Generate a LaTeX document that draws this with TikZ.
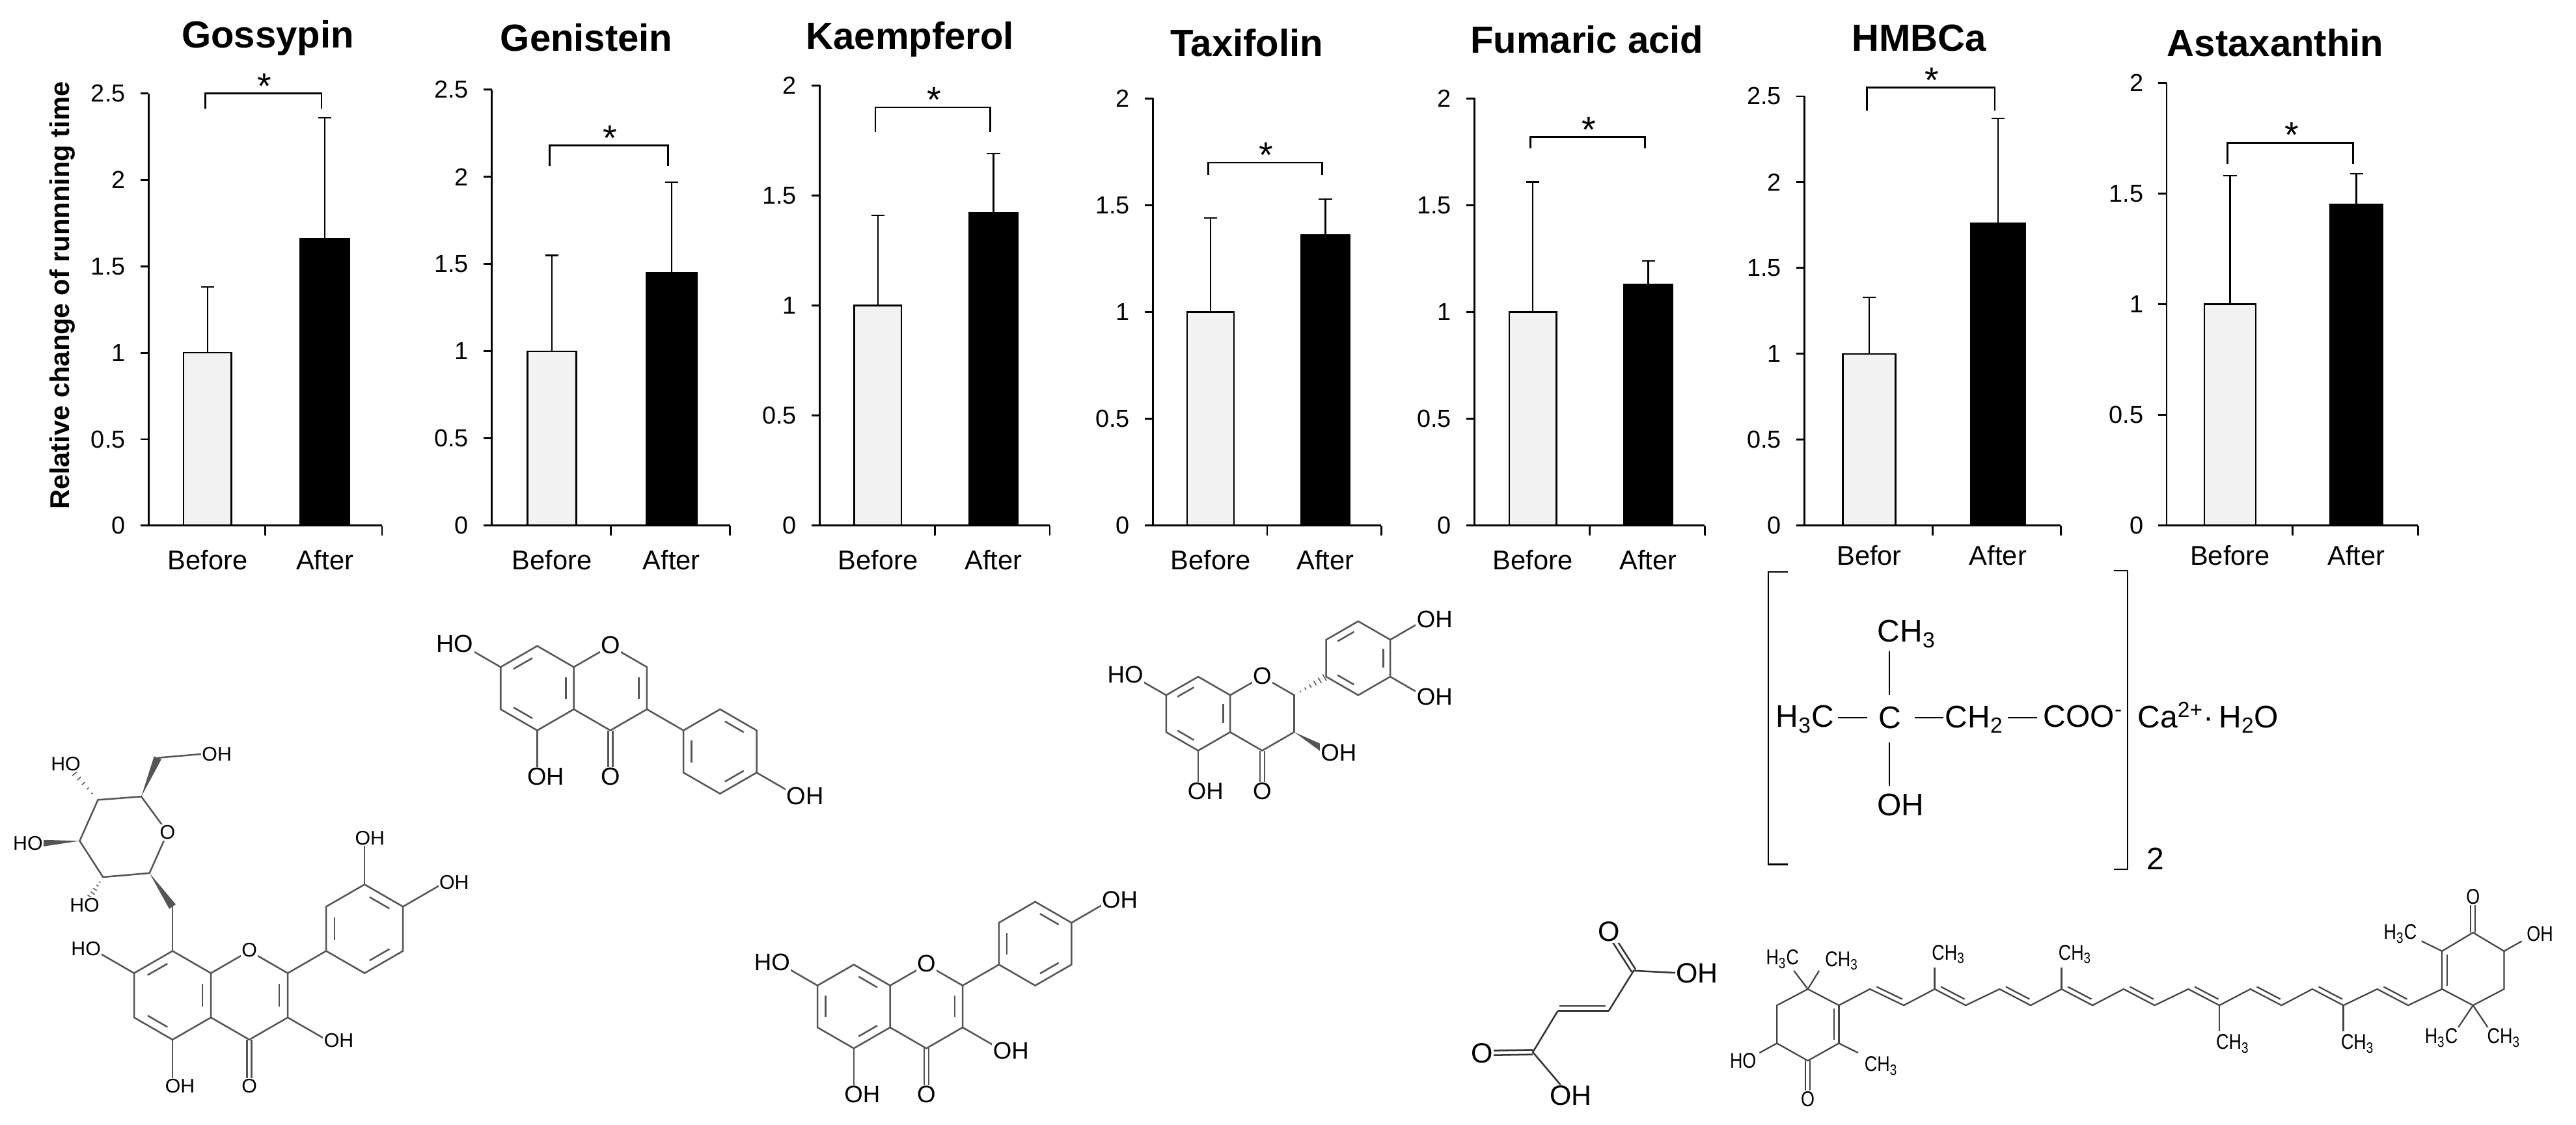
\documentclass[tikz,border=0pt]{standalone}
\usepackage{fontspec}
\setmainfont{Liberation Sans}
\newfontfamily\narrowf[FakeStretch=0.82]{Liberation Sans}
\usetikzlibrary{calc}
\definecolor{barlight}{HTML}{F2F2F2}
\definecolor{chem}{HTML}{555555}
\newcommand\fs[1]{\fontsize{#1}{#1}\selectfont}
\newcommand\dbl[2]{\draw[bond] ($(#1)!1.4pt!90:(#2)$)--($(#2)!1.4pt!-90:(#1)$);\draw[bond] ($(#1)!1.4pt!-90:(#2)$)--($(#2)!1.4pt!90:(#1)$);}
\newcommand\inr[3]{\path ($(#2)!.17!(#3)$) coordinate (tmpa) ($(#3)!.17!(#2)$) coordinate (tmpb);\draw[bond] ($(#1)!.78!(tmpa)$)--($(#1)!.78!(tmpb)$);}
\newcommand\wdg[2]{\fill[chem] (#1)--($(#2)!2.4pt!90:(#1)$)--($(#2)!2.4pt!-90:(#1)$)--cycle;}
\newcommand\hashb[2]{\foreach \t in {0.2,0.35,0.5,0.65,0.8,0.95}{\pgfmathsetmacro\ww{\t*2.4}\path ($(#1)!\t!(#2)$) coordinate (hh);\draw[chem,line width=.6pt] ($(hh)!\ww pt!90:(#2)$)--($(hh)!\ww pt!-90:(#2)$);}}
\newcommand\Acore{%
\coordinate (c8) at (0,1);\coordinate (c7) at (-.866,.5);\coordinate (c6) at (-.866,-.5);\coordinate (c5) at (0,-1);
\coordinate (c4a) at (.866,-.5);\coordinate (c8a) at (.866,.5);\coordinate (o1) at (1.732,1);\coordinate (c2) at (2.598,.5);
\coordinate (c3) at (2.598,-.5);\coordinate (c4) at (1.732,-1);\coordinate (o4) at (1.732,-2);\coordinate (ca) at (0,0);\coordinate (cc) at (1.732,0);
\coordinate (ho7) at (-1.732,1);\coordinate (oh5) at (0,-2);
\draw[bond] (c8)--(c7)--(c6)--(c5)--(c4a)--(c8a)--cycle;
\draw[bond] (c8a)--(o1)--(c2)--(c3)--(c4)--(c4a);
\dbl{c4}{o4}\draw[bond] (c7)--(ho7);\draw[bond] (c5)--(oh5);}
\newcommand\Bcore[2]{%
\coordinate (bc) at (#1,#2);\coordinate (bt) at (#1,#2+1);\coordinate (btr) at (#1+.866,#2+.5);\coordinate (bbr) at (#1+.866,#2-.5);
\coordinate (bb) at (#1,#2-1);\coordinate (bbl) at (#1-.866,#2-.5);\coordinate (btl) at (#1-.866,#2+.5);
\draw[bond] (bt)--(btr)--(bbr)--(bb)--(bbl)--(btl)--cycle;}
% chart: #1 x0, #2 W, #3 ymax, #4 top px, #5 berr, #6 after, #7 aerr, #8 bracket value, #9 leg
\newcommand\chart[9]{%
\begin{scope}[shift={(#1,0)}]
\pgfmathsetmacro\uu{(320-#4)/#3}
\pgfmathsetmacro\bcx{0.2525*#2}\pgfmathsetmacro\acx{0.755*#2}
\filldraw[fill=barlight,draw=black,line width=1pt] (0.15*#2,320) rectangle (0.355*#2,320-\uu);
\filldraw[fill=black,draw=black,line width=1pt] (0.65*#2,320) rectangle (0.86*#2,320-#6*\uu);
\draw[ebar] (\bcx,320-\uu)--(\bcx,320-#5*\uu) (\bcx-4,320-#5*\uu)--(\bcx+4,320-#5*\uu);
\draw[ebar] (\acx,320-#6*\uu)--(\acx,320-#7*\uu) (\acx-4,320-#7*\uu)--(\acx+4,320-#7*\uu);
\draw[axisl] (0,#4)--(0,320)--(#2,320) (#2/2,320)--(#2/2,326) (#2,320)--(#2,326);
\foreach \v in {0,0.5,1,1.5,2}{\draw[axisl] (-5,320-\v*\uu)--(0,320-\v*\uu);
 \node[tick] at (-14,320-\v*\uu) {\v};}
\ifdim #3pt>2pt \draw[axisl] (-5,#4)--(0,#4); \node[tick] at (-14,#4) {2.5};\fi
\draw[axisl] (\bcx-1.5,320-#8*\uu+#9)--(\bcx-1.5,320-#8*\uu)--(\acx-2,320-#8*\uu)--(\acx-2,320-#8*\uu+#9);
\node[star] at (\bcx/2+\acx/2-1,320-#8*\uu+3) {*};
\end{scope}}
\begin{document}
\begin{tikzpicture}[x=1pt,y=-1pt,
 bond/.style={draw=chem,line width=1pt},
 ebar/.style={line width=.9pt},
 axisl/.style={line width=1.1pt},
 tick/.style={anchor=east,inner sep=0pt,font=\fs{15}},
 cat/.style={inner sep=0pt,font=\fs{16.5}},
 ttl/.style={inner sep=0pt,font=\bfseries\fs{23}},
 star/.style={anchor=base,inner sep=0pt,font=\fs{22}},
 lb/.style={fill=white,inner sep=.6pt,text=black},
 ]
\useasboundingbox (0,0) rectangle (1568,684.6);
% charts
\chart{90.5}{142}{2.5}{57}{1.38}{1.66}{2.36}{2.5}{9}
\chart{299.3}{145}{2.5}{54.6}{1.55}{1.45}{1.97}{2.18}{12.5}
\chart{499}{140}{2}{52}{1.41}{1.42}{1.69}{1.90}{15}
\chart{701.8}{139}{2}{60}{1.44}{1.36}{1.53}{1.70}{7.5}
\chart{897.6}{140}{2}{60}{1.61}{1.13}{1.24}{1.82}{7}
\chart{1098.4}{156}{2.5}{58.6}{1.33}{1.76}{2.37}{2.55}{14}
\chart{1318.8}{153}{2}{50.5}{1.58}{1.45}{1.59}{1.73}{13}
% titles
\node[ttl] (t1) at (163,23) {Gossypin};
\node[ttl] (t2) at (357,23) {Genistein};
\node[ttl] (t3) at (554,24) {Kaempferol};
\node[ttl] (t4) at (759,26) {Taxifolin};
\node[ttl] (t5) at (966,24) {Fumaric acid};
\node[ttl] (t6) at (1168,23) {HMBCa};
\node[ttl] (t7) at (1385,26) {Astaxanthin};
% category labels
\foreach \x/\w/\yy in {90.5/142/341,299.3/145/341,499/140/341,701.8/139/341,897.6/140/341,1318.8/153/338}{
 \node[cat] at (\x+0.2525*\w,\yy) {Before};\node[cat] at (\x+0.755*\w,\yy) {After};}
\node[cat] (bf6) at (1098.4+0.2525*156,338) {Befor};
\node[cat] (af6) at (1098.4+0.755*156,338) {After};
\node[rotate=90,inner sep=0pt,font=\bfseries\fs{16.5}] (yl) at (38,180) {Relative change of runnning time};
% ---------- Gossypin ----------
\begin{scope}[shift={(105,606)},x=27pt,y=27pt,font=\fs{12}]
\Acore
\inr{ca}{c8}{c7}\inr{ca}{c8a}{c4a}\inr{ca}{c6}{c5}\inr{cc}{c2}{c3}
\coordinate (og) at (0,2);\draw[bond] (c8)--(og);
\coordinate (oh3) at (3.464,-1);\draw[bond] (c3)--(oh3);
\draw[bond] (c2)--(3.464,1);
\Bcore{4.33}{1.5}
\inr{bc}{bbl}{btl}\inr{bc}{bt}{btr}\inr{bc}{bbr}{bb}
\coordinate (oh3p) at (4.33,2.5+.95);\draw[bond] (bt)--(oh3p);
\coordinate (oh4p) at (6.06,2.5);\draw[bond] (btr)--(oh4p);
\node[lb] at (-1.95,1.05) {HO};\node[lb] at (0.17,-2.05) {OH};\node[lb] at (1.732,-2.05) {O};
\node[lb] at (1.732,1.02) {O};\node[lb] at (3.75,-1.02) {OH};\node[lb] at (4.45,3.55) {OH};\node[lb] at (6.35,2.55) {OH};
\end{scope}
\coordinate (g1) at (91,531.6);\coordinate (go5) at (102,506.8);\coordinate (g5) at (86,485);\coordinate (g4) at (59.6,487);
\coordinate (g3) at (48.5,512);\coordinate (g2) at (62.7,534);\coordinate (gch) at (96,461.4);\coordinate (goh6) at (124,459);
\coordinate (gog) at (105,552);\coordinate (gho4) at (42,467);\coordinate (gho3) at (22,513.6);\coordinate (gho2) at (53,549);
\draw[bond] (g1)--(go5)--(g5)--(g4)--(g3)--(g2)--(g1);
\draw[bond] (gch)--(goh6);
\wdg{g1}{gog}\wdg{g5}{gch}\wdg{g3}{gho3}
\hashb{g4}{gho4}\hashb{g2}{gho2}
\begin{scope}[font=\fs{12}]
\node[lb] at (go5) {O};\node[lb] at (132,459) {OH};\node[lb] at (40,465) {HO};\node[lb] at (17,513.6) {HO};\node[lb] at (51.5,551) {HO};
\end{scope}
% ---------- Genistein ----------
\begin{scope}[shift={(327,419)},x=25.7pt,y=25.7pt,font=\fs{15}]
\Acore
\inr{ca}{c8}{c7}\inr{ca}{c8a}{c4a}\inr{ca}{c6}{c5}\inr{cc}{c2}{c3}
\Bcore{4.33}{-1.5}
\draw[bond] (c3)--(btl);
\inr{bc}{bt}{btr}\inr{bc}{btl}{bbl}\inr{bc}{bbr}{bb}
\coordinate (oh4p) at (6.06,-2.5);\draw[bond] (bbr)--(oh4p);
\node[lb] at (-1.95,1.05) {HO};\node[lb] at (0.2,-2.1) {OH};\node[lb] at (1.732,-2.1) {O};
\node[lb] at (1.732,1.02) {O};\node[lb] at (6.35,-2.55) {OH};
\end{scope}
% ---------- Taxifolin ----------
\begin{scope}[shift={(729.3,434.5)},x=22.5pt,y=22.5pt,font=\fs{14.5}]
\Acore
\inr{ca}{c8}{c7}\inr{ca}{c8a}{c4a}\inr{ca}{c6}{c5}
\Bcore{4.33}{1.5}
\hashb{c2}{bbl}
\inr{bc}{btl}{bt}\inr{bc}{btr}{bbr}\inr{bc}{bb}{bbl}
\coordinate (oh3) at (3.464,-1);\wdg{c3}{oh3}
\coordinate (oh4p) at (6.06,2.5);\draw[bond] (btr)--(oh4p);
\coordinate (oh3p) at (6.06,0.5);\draw[bond] (bbr)--(oh3p);
\node[lb] at (-1.97,1.05) {HO};\node[lb] at (0.2,-2.1) {OH};\node[lb] at (1.732,-2.1) {O};
\node[lb] at (1.732,1.02) {O};\node[lb] at (3.8,-1.05) {OH};\node[lb] at (6.4,2.55) {OH};\node[lb] at (6.4,0.45) {OH};
\end{scope}
% ---------- Kaempferol ----------
\begin{scope}[shift={(519.7,612.8)},x=25.5pt,y=25.5pt,font=\fs{14.5}]
\Acore
\inr{ca}{c8}{c8a}\inr{ca}{c7}{c6}\inr{ca}{c5}{c4a}\inr{cc}{c2}{c3}
\Bcore{4.33}{1.5}
\draw[bond] (c2)--(bbl);
\inr{bc}{bt}{btr}\inr{bc}{bbl}{btl}\inr{bc}{bb}{bbr}
\coordinate (oh3) at (3.464,-1);\draw[bond] (c3)--(oh3);
\coordinate (oh4p) at (6.06,2.5);\draw[bond] (btr)--(oh4p);
\node[lb] at (-1.95,1.05) {HO};\node[lb] at (0.2,-2.1) {OH};\node[lb] at (1.732,-2.1) {O};
\node[lb] at (1.732,1.02) {O};\node[lb] at (3.75,-1.05) {OH};\node[lb] at (6.35,2.55) {OH};
\end{scope}
% ---------- Fumaric acid ----------
\coordinate (f1) at (933,640.6);\coordinate (fo1) at (902,641.2);\coordinate (foh1) at (952,663);
\coordinate (f2) at (948.2,615.5);\coordinate (f3) at (979.2,615.5);\coordinate (f4) at (994.4,591);
\coordinate (fo4) at (979.2,567.3);\coordinate (foh4) at (1022,592.4);
\begin{scope}[bond/.style={draw=black!80,line width=1pt}]
\draw[bond] (foh1)--(f1)--(f2) (f3)--(f4)--(foh4);
\dbl{f1}{fo1}\dbl{f4}{fo4}
\draw[bond] (f2)--(f3);\draw[bond] ($(f2)+(1,-3)$)--($(f3)+(-2,-3)$);
\end{scope}
\begin{scope}[font=\fs{17}]
\node[lb] at (fo1) {O};\node[lb] at (fo4) {O};\node[lb] at (1033,592.4) {OH};\node[lb] at (956,667) {OH};
\end{scope}
% ---------- HMBCa ----------
\draw[line width=.9pt] (1088.4,348.2)--(1076.4,348.2)--(1076.4,526.3)--(1088.4,526.3);
\draw[line width=.9pt] (1286.8,347.4)--(1295,347.4)--(1295,529.4)--(1286.8,529.4);
\draw[line width=.8pt] (1150.2,396.7)--(1150.2,423.2) (1150.2,452)--(1150.2,478.6);
\draw[line width=1.1pt] (1118.6,437)--(1136.5,437) (1165.6,437)--(1182.8,437) (1222.2,437)--(1240.1,437);
\begin{scope}[font=\fs{19},inner sep=0pt]
\node (hc) at (1160.5,386) {CH\textsubscript{3}};
\node (h3c) at (1098.7,438) {H\textsubscript{3}C};
\node (cc1) at (1150.2,437) {C};
\node (ch2) at (1201.7,438) {CH\textsubscript{2}};
\node (coo) at (1268,436) {COO\textsuperscript{-}};
\node[anchor=west] (cah) at (1301,437) {Ca\textsuperscript{2+}\textperiodcentered\,H\textsubscript{2}O};
\node (hoh) at (1157,490) {OH};
\node (two) at (1312,523) {2};
\end{scope}
% ---------- Astaxanthin ----------
\begin{scope}[bond/.style={draw=chem!80!black,line width=.9pt}]
\coordinate (a1) at (1100.4,602.2);\coordinate (a2) at (1081.6,612.1);\coordinate (a3) at (1081.6,635.2);
\coordinate (a4) at (1100.4,645.8);\coordinate (a5) at (1119.3,635.2);\coordinate (a6) at (1119.3,612.1);
\draw[bond] (a6)--(a1)--(a2)--(a3)--(a4)--(a5);
\draw[bond] (a5)--(a6);\draw[bond] ($(a5)+(-3,-2)$)--($(a6)+(-3,2)$);
\coordinate (ao) at (1100.4,669);\dbl{a4}{ao}
\draw[bond] (a1)--(1091.9,591) (a1)--(1107.3,591) (a3)--(1071,641) (a5)--(1131,641);
\foreach \i/\x/\y in {1/1138.2/602.2,2/1158.8/612.1,3/1177.6/602.2,4/1196.5/612.1,5/1217.1/602.2,6/1236.0/612.1,7/1254.8/602.2,8/1273.7/612.1,9/1292.6/602.2,10/1311.5/612.1,11/1332.0/602.2,12/1350.9/612.1,13/1369.8/602.2,14/1388.7/612.1,15/1407.5/602.2,16/1426.4/612.1,17/1447.0/602.2,18/1465.8/612.1}{\coordinate (p\i) at (\x,\y);}
\coordinate (p0) at (a6);
\coordinate (r6) at (1486.4,602.2);\coordinate (r5) at (1486.4,579.1);\coordinate (r4) at (1505.3,567.8);
\coordinate (r3) at (1524.2,579.1);\coordinate (r2) at (1524.2,602.2);\coordinate (r1) at (1505.3,612.1);
\draw[bond] (p0)--(p1)--(p2)--(p3)--(p4)--(p5)--(p6)--(p7)--(p8)--(p9)--(p10)--(p11)--(p12)--(p13)--(p14)--(p15)--(p16)--(p17)--(p18)--(r6);
\foreach \a/\b in {p1/p2,p3/p4,p5/p6,p7/p8,p9/p10,p11/p12,p13/p14,p15/p16,p17/p18}{
 \draw[bond] ($(\a)!.12!(\b)+(1.6,-2.6)$) -- ($(\b)!.12!(\a)+(1.6,-2.6)$);}
\draw[bond] (p3)--(1177.6,589) (p7)--(1254.8,589) (p12)--(1350.9,628) (p16)--(1426.4,628);
\draw[bond] (r6)--(r5)--(r4)--(r3)--(r2)--(r1)--(r6);
\draw[bond] ($(r6)+(3,-2)$)--($(r5)+(3,2)$);
\coordinate (ro) at (1505.3,546);\dbl{r4}{ro}
\draw[bond] (r3)--(1535,573) (r5)--(1474,573) (r1)--(1496,626) (r1)--(1514.6,626);
\end{scope}
\begin{scope}[font=\narrowf\fs{13},inner sep=.5pt]
\node[lb] at (1085,584) {H\textsubscript{3}C};\node[lb] at (1121,585) {CH\textsubscript{3}};
\node[lb] at (1061,646) {HO};\node[lb] at (ao) {O};\node[lb] at (1145,649) {CH\textsubscript{3}};
\node[lb] at (1186,581) {CH\textsubscript{3}};\node[lb] at (1263,581) {CH\textsubscript{3}};
\node[lb] at (1359,635.5) {CH\textsubscript{3}};\node[lb] at (1435,635.5) {CH\textsubscript{3}};
\node[lb] at (ro) {O};\node[lb] at (1461,568.5) {H\textsubscript{3}C};\node[lb] at (1546,568.5) {OH};
\node[lb] at (1486,632) {H\textsubscript{3}C};\node[lb] at (1524,632) {CH\textsubscript{3}};
\end{scope}
\end{tikzpicture}
\end{document}
